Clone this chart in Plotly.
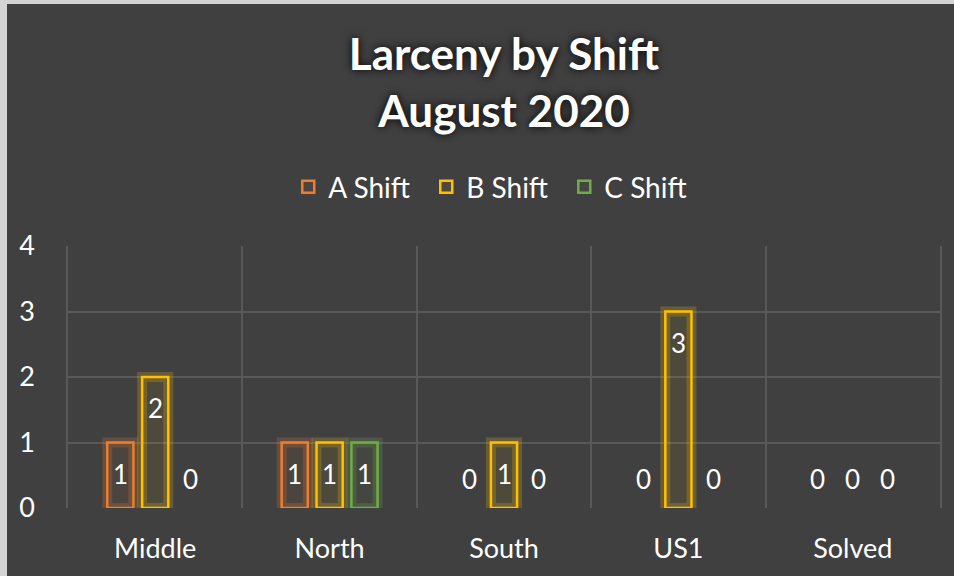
import plotly.graph_objects as go

categories = ["Middle", "North", "South", "US1", "Solved"]
series_names = ["A Shift", "B Shift", "C Shift"]
a_shift = [1, 1, 0, 0, 0]
b_shift = [2, 1, 1, 3, 0]
c_shift = [0, 1, 0, 0, 0]
y_ticks = [0, 1, 2, 3, 4]

series_values = [a_shift, b_shift, c_shift]
colors = ["#ED7D31", "#FFC000", "#70AD47"]
glows = ["rgba(237,125,49,0.22)", "rgba(255,192,0,0.22)", "rgba(112,173,71,0.22)"]
fills = ["rgba(237,125,49,0.07)", "rgba(255,192,0,0.07)", "rgba(112,173,71,0.07)"]

FONT = "Lato"
BARGAP = 0.4
fig = go.Figure()

for i, (name, vals) in enumerate(zip(series_names, series_values)):
    shown = [v if v > 0 else None for v in vals]
    fig.add_trace(go.Bar(
        x=categories, y=shown, offsetgroup=str(i), showlegend=False, hoverinfo="skip",
        marker=dict(color="rgba(0,0,0,0)", line=dict(color=glows[i], width=10)),
    ))
    fig.add_trace(go.Bar(
        x=categories, y=shown, name=name, offsetgroup=str(i),
        marker=dict(color=fills[i], line=dict(color=colors[i], width=2.5)),
    ))

slot = (1 - BARGAP) / 3
annotations = []
for i, vals in enumerate(series_values):
    for j, v in enumerate(vals):
        annotations.append(dict(
            x=j + (i - 1) * slot, y=v, xref="x", yref="y",
            text=str(v), showarrow=False,
            yshift=(-31 if v > 0 else 29),
            font=dict(family=FONT, size=26, color="#FFFFFF"),
        ))

L, R, T, B = 68, 940, 246, 508
shapes = [dict(
    type="rect", xref="paper", yref="paper", layer="below",
    x0=(7 - L) / (R - L), x1=1.05, y0=-0.3, y1=(B - 4) / (B - T),
    fillcolor="#404040", line=dict(width=0),
)]

fig.update_layout(
    width=954, height=576,
    paper_bgcolor="#D4D4D4", plot_bgcolor="rgba(0,0,0,0)",
    margin=dict(l=L, r=954 - R, t=T, b=576 - B),
    barmode="group", bargap=BARGAP, bargroupgap=0.25,
    title=dict(
        text="Larceny by Shift<br>August 2020",
        x=0.5, xanchor="center", xref="paper",
        y=1 - 70 / 576, yanchor="middle", yref="container",
        font=dict(family=FONT, size=44, color="#FFFFFF", weight="bold",
                  shadow="0px 0px 8px #000000"),
    ),
    legend=dict(
        orientation="h", x=0.49, xanchor="center", y=(B - 187) / (B - T), yanchor="middle",
        font=dict(family=FONT, size=28, color="#FFFFFF"),
        bgcolor="rgba(0,0,0,0)", traceorder="normal",
        entrywidth=93, entrywidthmode="pixels",
    ),
    xaxis=dict(
        type="category", range=[-0.5, 4.5],
        showgrid=True, gridcolor="#595959", gridwidth=1.5, tickson="boundaries",
        ticks="", showline=False, zeroline=False,
        tickfont=dict(family=FONT, size=27, color="#FFFFFF"),
        ticklabelstandoff=22,
    ),
    yaxis=dict(
        range=[0, 4], tickvals=y_ticks,
        showgrid=True, gridcolor="#595959", gridwidth=1.5,
        zeroline=False, showline=True, mirror=True, linecolor="#595959", linewidth=1.5,
        ticks="",
        tickfont=dict(family=FONT, size=27, color="#FFFFFF"),
        ticklabelstandoff=26,
    ),
    annotations=annotations,
    shapes=shapes,
    showlegend=True,
)

fig.write_html("out.html", config={"displayModeBar": False},
               post_script="document.body.style.margin='0px';")
